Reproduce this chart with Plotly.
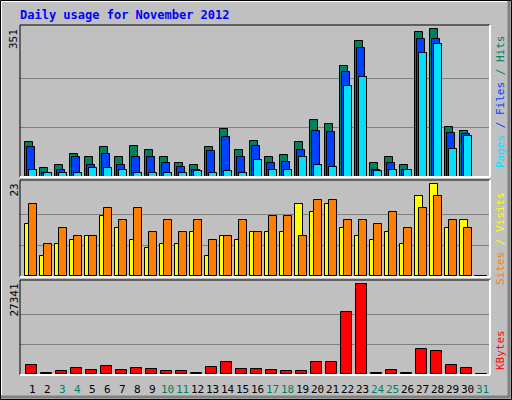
import plotly.graph_objects as go

days = list(range(1, 32))
hits = [82,20,29,53,48,70,46,72,63,48,32,29,70,113,63,84,48,51,82,134,125,263,322,32,46,29,344,351,118,108,0]
files = [70,8,15,46,29,53,29,48,46,32,22,15,60,94,46,72,32,34,63,108,106,249,306,15,32,17,327,327,103,101,0]
pages = [15,8,10,10,20,20,15,10,10,10,10,13,8,13,10,39,17,15,46,27,22,215,237,13,15,17,294,315,65,98,0]
visits = [13,5,8,9,10,15,12,9,7,8,8,11,5,10,9,11,11,11,18,16,18,12,10,9,11,8,20,23,12,14,0]
sites = [18,8,12,10,10,17,14,17,11,14,11,14,9,10,14,11,15,15,10,19,19,14,14,13,16,12,17,20,14,12,0]
kbytes = [2800,400,1000,1900,1300,2500,1300,1900,1600,1000,1000,400,2200,3700,1600,1600,1300,1000,1000,3700,3700,18960,27341,400,1300,400,7580,6980,2800,1900,0]
weekend = [3,4,10,11,17,18,24,25,31]
title = "Daily usage for November 2012"

C_HITS, C_FILES, C_PAGES = "#00805c", "#0040ff", "#00e0ff"
C_VIS, C_SITES, C_KB = "#ffff00", "#ff8000", "#ff0000"
FONT = "DejaVu Sans Mono"

fig = go.Figure()
line = dict(color="black", width=1)
def bars(vals, off, w, color, ya):
    fig.add_trace(go.Bar(x=[d + off for d in days], y=vals, width=w, marker=dict(color=color, line=line),
                         yaxis=ya, showlegend=False, hoverinfo="skip"))
bars(hits, -0.23, 0.53, C_HITS, "y")
bars(files, -0.1, 0.53, C_FILES, "y")
bars(pages, 0.03, 0.53, C_PAGES, "y")
bars(visits, -0.23, 0.53, C_VIS, "y2")
bars(sites, 0.03, 0.53, C_SITES, "y2")
bars(kbytes, -0.08, 0.7, C_KB, "y3")

def ys(domain, rng, grid):
    return dict(domain=domain, range=rng, tickvals=grid, showticklabels=False, showgrid=True,
                gridcolor="#808080", gridwidth=1, zeroline=False, fixedrange=True, anchor="x")

def frac(py):
    return (375 - py) / 350

fig.update_layout(
    width=512, height=400, margin=dict(l=20, r=22, t=25, b=25),
    paper_bgcolor="#c0c0c0", plot_bgcolor="#c0c0c0", barmode="overlay", bargap=0,
    xaxis=dict(range=[0.167, 31.5], showticklabels=False, showgrid=False, zeroline=False, anchor="y3", ticks=""),
    yaxis=ys([frac(177), 1], [-0.7, 361], [117, 234]),
    yaxis2=ys([frac(277), frac(180)], [-0.175, 24.07], [7.67, 15.33]),
    yaxis3=ys([0, frac(280)], [-200, 28627], [9114, 18227]),
)

shapes = []
def pline(x0, y0, x1, y1, color, w=1):
    shapes.append(dict(type="line", xref="paper", yref="paper", x0=x0, y0=y0, x1=x1, y1=y1, line=dict(color=color, width=w)))
for top, bot in [(25, 177), (180, 277), (280, 375)]:
    t, b = frac(top), frac(bot)
    pline(0, t, 1, t, "black")
    pline(0, b, 0, t, "black")
    pline(0, b, 1, b, "white", 2)
    pline(1, b, 1, t, "white", 2)
# outer frame
def px(x):
    return (x - 20) / 470
pline(px(1), frac(1), px(1), frac(398), "white", 2)
pline(px(1), frac(1), px(510), frac(1), "white", 2)
pline(px(509), frac(1), px(509), frac(398), "#808080", 3)
pline(px(1), frac(397), px(510), frac(397), "#808080", 3)
shapes.append(dict(type="rect", xref="paper", yref="paper", x0=px(0.5), x1=px(511.5), y0=frac(399.5), y1=frac(0.5),
                   line=dict(color="black", width=1)))
fig.update_layout(shapes=shapes)

ann = []
ann.append(dict(text="<b>" + title + "</b>", xref="paper", yref="paper", x=px(18), y=frac(15),
                xanchor="left", yanchor="middle", showarrow=False, font=dict(family=FONT, size=12, color="#0000ff")))
for txt, top in [("351", 27), ("23", 182), ("27341", 282)]:
    ann.append(dict(text=txt, xref="paper", yref="paper", x=px(14), y=frac(top), textangle=-90,
                    xanchor="center", yanchor="top", showarrow=False, font=dict(family=FONT, size=11, color="black")))
def sp(t, c):
    return f"<span style='color:{c}'>{t}</span>"
right = [
    (sp("Pages", C_PAGES) + sp(" / ", C_FILES) + sp("Files", C_FILES) + sp(" / ", C_HITS) + sp("Hits", C_HITS), 101),
    (sp("Sites", C_SITES) + sp(" / ", C_VIS) + sp("Visits", C_VIS), 238),
    (sp("KBytes", C_KB), 350),
]
for txt, cy in right:
    ann.append(dict(text=txt, xref="paper", yref="paper", x=px(500), y=frac(cy), textangle=-90,
                    xanchor="center", yanchor="middle", showarrow=False, font=dict(family=FONT, size=11)))
for d in days:
    ann.append(dict(text=str(d), xref="x", yref="paper", x=d, y=frac(389), xanchor="center", yanchor="middle",
                    showarrow=False, font=dict(family=FONT, size=11, color="#00805c" if d in weekend else "black")))
fig.update_layout(annotations=ann)
fig.write_html("out.html", config={"displayModeBar": False},
               post_script="document.body.style.margin='0';document.body.style.overflow='hidden';")
